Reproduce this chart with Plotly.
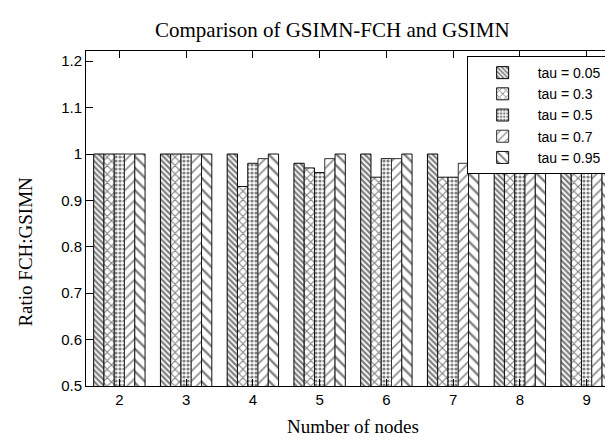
import plotly.graph_objects as go

nodes = [2, 3, 4, 5, 6, 7, 8, 9]
tau_labels = ["tau = 0.05", "tau = 0.3", "tau = 0.5", "tau = 0.7", "tau = 0.95"]
tau_005 = [1.00, 1.00, 1.00, 0.98, 1.00, 1.00, 0.99, 1.00]
tau_03 = [1.00, 1.00, 0.93, 0.97, 0.95, 0.95, 0.97, 0.98]
tau_05 = [1.00, 1.00, 0.98, 0.96, 0.99, 0.95, 0.97, 0.99]
tau_07 = [1.00, 1.00, 0.99, 0.99, 0.99, 0.98, 0.98, 0.98]
tau_095 = [1.00, 1.00, 1.00, 1.00, 1.00, 1.00, 1.00, 1.00]
series = [tau_005, tau_03, tau_05, tau_07, tau_095]

patterns = [
    dict(shape="\\", size=4, solidity=0.55, fgcolor="black"),
    dict(shape="x", size=6, solidity=0.35, fgcolor="black"),
    dict(shape=".", size=4, solidity=0.5, fgcolor="black"),
    dict(shape="/", size=7, solidity=0.25, fgcolor="#222"),
    dict(shape="\\", size=8, solidity=0.3, fgcolor="black"),
]
line_colors = ["black", "#111", "#111", "#333", "#111"]

fig = go.Figure()
for name, vals, pat, lc in zip(tau_labels, series, patterns, line_colors):
    fig.add_trace(go.Bar(
        x=nodes, y=vals, name=name,
        marker=dict(color="white", pattern=pat, line=dict(color=lc, width=1)),
    ))

sans = "Liberation Sans, Arial, Helvetica"
serif = "Liberation Serif, Times New Roman, Times"

axis_common = dict(
    showline=True, linecolor="black", linewidth=1, mirror="ticks",
    ticks="inside", ticklen=7, tickcolor="black", showgrid=False, zeroline=False,
    automargin=False,
    tickfont=dict(family=sans, size=15, color="black"),
)

fig.update_layout(
    width=613, height=441,
    margin=dict(l=78, r=1, t=43, b=63),
    paper_bgcolor="white", plot_bgcolor="white",
    barmode="group", bargap=0.23, bargroupgap=0,
    title=dict(text="Comparison of GSIMN-FCH and GSIMN", x=147 / 613, xanchor="left",
               xref="container", y=0.952, yref="container", yanchor="middle",
               font=dict(family=serif, size=21, color="black")),
    xaxis=dict(range=[1.5, 9.5], tickvals=nodes, ticktext=[str(n) for n in nodes],
               title=dict(text="Number of nodes", standoff=12,
                          font=dict(family=serif, size=19, color="black")),
               **axis_common),
    yaxis=dict(range=[0.5, 1.222], tickvals=[0.5, 0.6, 0.7, 0.8, 0.9, 1.0, 1.1, 1.2],
               ticktext=["0.5", "0.6", "0.7", "0.8", "0.9", "1", "1.1", "1.2"],
               **axis_common),
    annotations=[dict(text="Ratio FCH:GSIMN", textangle=-90, showarrow=False,
                      xref="paper", yref="paper", x=-0.115, y=0.40,
                      xanchor="center", yanchor="middle",
                      font=dict(family=serif, size=19, color="black"))],
    legend=dict(x=0.975, y=0.985, xanchor="right", yanchor="top",
                bordercolor="black", borderwidth=1, bgcolor="white",
                font=dict(family=sans, size=14, color="black"),
                tracegroupgap=0, itemwidth=60),
    showlegend=True,
)

fig.write_html("out.html")
